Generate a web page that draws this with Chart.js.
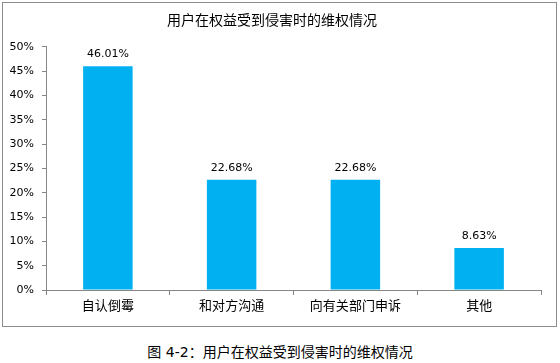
<!DOCTYPE html>
<html>
<head>
<meta charset="utf-8">
<script src="https://cdn.jsdelivr.net/npm/chart.js@4"></script>
<style>
  body { margin: 0; background: #fff; width: 560px; height: 363px; position: relative; font-family: "DejaVu Sans", "Noto Sans CJK SC", sans-serif; }
  #box { position: absolute; left: 2px; top: 2px; width: 553px; height: 323px; border: 1px solid #8c8c8c; }
  #caption { position: absolute; left: 0; width: 560px; top: 341px; text-align: center; font-size: 14px; color: #000; }
</style>
</head>
<body>
<div id="box"><canvas id="chart" width="553" height="323"></canvas></div>
<div id="caption">图 4-2：用户在权益受到侵害时的维权情况</div>
<script>
// 数据
const categories = ['自认倒霉', '和对方沟通', '向有关部门申诉', '其他'];
const values = [46.01, 22.68, 22.68, 8.63];
const yTicks = [0, 5, 10, 15, 20, 25, 30, 35, 40, 45, 50];

// 柱子上方的数值
const valueLabels = {
    id: 'valueLabels',
    afterDatasetsDraw(chart) {
        const ctx = chart.ctx;
        ctx.save();
        ctx.font = '11px "DejaVu Sans", sans-serif';
        ctx.fillStyle = '#000';
        ctx.textAlign = 'center';
        ctx.textBaseline = 'middle';
        chart.getDatasetMeta(0).data.forEach((bar, i) => {
            ctx.fillText(values[i].toFixed(2) + '%', bar.x, bar.y - 12);
        });
        ctx.restore();
    }
};

document.addEventListener("DOMContentLoaded", function() {
    const ctx = document.getElementById('chart').getContext('2d');
    new Chart(ctx, {
        type: 'bar',
        data: {
            labels: categories,
            datasets: [{
                data: values,
                backgroundColor: '#00B0F0',
                barPercentage: 0.4,
                categoryPercentage: 1
            }]
        },
        options: {
            responsive: false,
            animation: false,
            layout: { padding: { left: 0, right: 15, top: 0, bottom: 0 } },
            plugins: {
                legend: { display: false },
                tooltip: { enabled: false },
                title: {
                    display: true,
                    text: '用户在权益受到侵害时的维权情况',
                    color: '#000',
                    font: { family: '"Noto Sans CJK SC", sans-serif', size: 14, weight: 'normal', lineHeight: 1.2 },
                    padding: { top: 8, bottom: 19 }
                }
            },
            scales: {
                x: {
                    grid: { drawOnChartArea: false, color: '#868686', tickLength: 5, offset: true },
                    border: { color: '#868686' },
                    ticks: {
                        color: '#000',
                        padding: 4,
                        font: { family: '"DejaVu Sans", "Noto Sans CJK SC", sans-serif', size: 13 }
                    },
                    afterFit: s => { s.height = 36; }
                },
                y: {
                    min: 0,
                    max: 50,
                    afterBuildTicks: s => { s.ticks = yTicks.map(v => ({ value: v })); },
                    grid: { drawOnChartArea: false, color: '#868686', tickLength: 4 },
                    border: { color: '#868686' },
                    ticks: {
                        color: '#000',
                        padding: 8,
                        font: { family: '"DejaVu Sans", sans-serif', size: 11 },
                        callback: v => v + '%'
                    },
                    afterFit: s => { s.width = 43; }
                }
            }
        },
        plugins: [valueLabels]
    });
});
</script>
</body>
</html>
